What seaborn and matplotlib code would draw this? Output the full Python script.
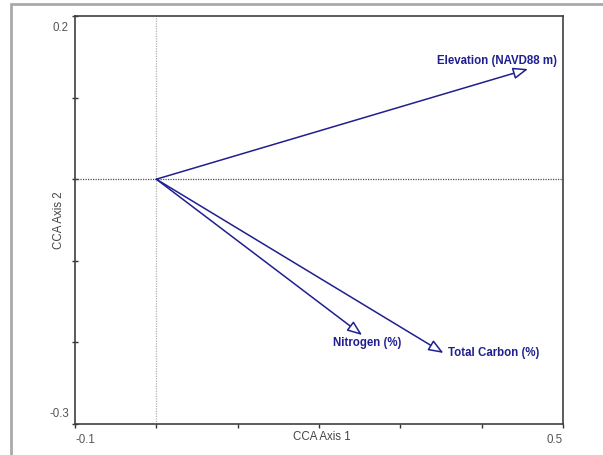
import matplotlib
matplotlib.use("Agg")
import matplotlib.pyplot as plt
import seaborn as sns
from matplotlib.lines import Line2D

## data: CCA biplot arrows (environmental variables)
variables = ["Elevation (NAVD88 m)", "Nitrogen (%)", "Total Carbon (%)"]
axis1 = [0.457, 0.253, 0.353]
axis2 = [0.135, -0.191, -0.213]

x_limits = [-0.1, 0.5]
y_limits = [-0.3, 0.2]

navy = "#1f1f8f"

sns.set_style("white")
plt.rcParams["font.family"] = ["Liberation Sans", "DejaVu Sans"]

fig = plt.figure(figsize=(6.03, 4.55), dpi=100)
ax = fig.add_axes([75 / 603, 31 / 455, 488 / 603, 408 / 455])

## dotted reference lines through origin
ax.axvline(0, color="#b0b0b0", lw=0.9, ls=(0, (1, 1)), zorder=1)
ax.axhline(0, color="#505050", lw=0.9, ls=(0, (1, 1)), zorder=1)

## label placement (pixel offsets from arrow tip, alignment)
offsets = {"Elevation (NAVD88 m)": ((29, 8), "right"),
           "Nitrogen (%)": ((-29, -8), "left"),
           "Total Carbon (%)": ((5, 0), "left")}

for name, x, y in zip(variables, axis1, axis2):
    ax.annotate("", xy=(x, y), xytext=(0, 0),
                arrowprops=dict(arrowstyle="-|>,head_length=0.9,head_width=0.35",
                                fc="white", ec=navy, lw=1.1,
                                shrinkA=0, shrinkB=0, mutation_scale=10),
                zorder=3)
    (dx, dy), ha = offsets[name]
    ax.annotate(name, xy=(x, y), xytext=(dx * 0.72, dy * 0.72),
                textcoords="offset points", ha=ha, va="center",
                color=navy, fontsize=8.3, fontweight="bold")

ax.set_xlim(x_limits)
ax.set_ylim(y_limits)

## ticks every 0.1, labels only at the ends
ax.set_xticks([-0.1, 0.0, 0.1, 0.2, 0.3, 0.4, 0.5])
ax.set_yticks([-0.3, -0.2, -0.1, 0.0, 0.1, 0.2])
ax.set_xticklabels([])
ax.set_yticklabels([])
ax.tick_params(axis="x", direction="out", length=3, width=1, color="#333333", bottom=True)
ax.tick_params(axis="y", direction="inout", length=4, width=1, color="#333333", left=True)

for s in ax.spines.values():
    s.set_color("#404040")
    s.set_linewidth(1.2)

tick_style = dict(color="#555555", fontsize=8.3)
ax.annotate("-0.3", xy=(-0.1, -0.3), xytext=(-4.5, 3), textcoords="offset points",
            ha="right", va="bottom", **tick_style)
ax.annotate("0.2", xy=(-0.1, 0.2), xytext=(-4.5, -4), textcoords="offset points",
            ha="right", va="top", **tick_style)
ax.annotate("-0.1", xy=(-0.1, -0.3), xytext=(0, -7), textcoords="offset points",
            ha="left", va="top", **tick_style)
ax.annotate("0.5", xy=(0.5, -0.3), xytext=(0, -7), textcoords="offset points",
            ha="right", va="top", **tick_style)

ax.set_xlabel("CCA Axis 1", fontsize=8.3, color="#444444")
ax.set_ylabel("CCA Axis 2", fontsize=8.3, color="#444444")
ax.xaxis.set_label_coords(0.505, -0.016, transform=ax.transAxes)
ax.yaxis.set_label_coords(-0.021, 0.5, transform=ax.transAxes)

## partial gray frame of the screenshot
fig.add_artist(Line2D([11 / 603, 1], [451 / 455, 451 / 455], color="#aaaaaa", lw=2))
fig.add_artist(Line2D([11 / 603, 11 / 603], [0, 451 / 455], color="#aaaaaa", lw=2))

fig.savefig("out.png", dpi=100)
